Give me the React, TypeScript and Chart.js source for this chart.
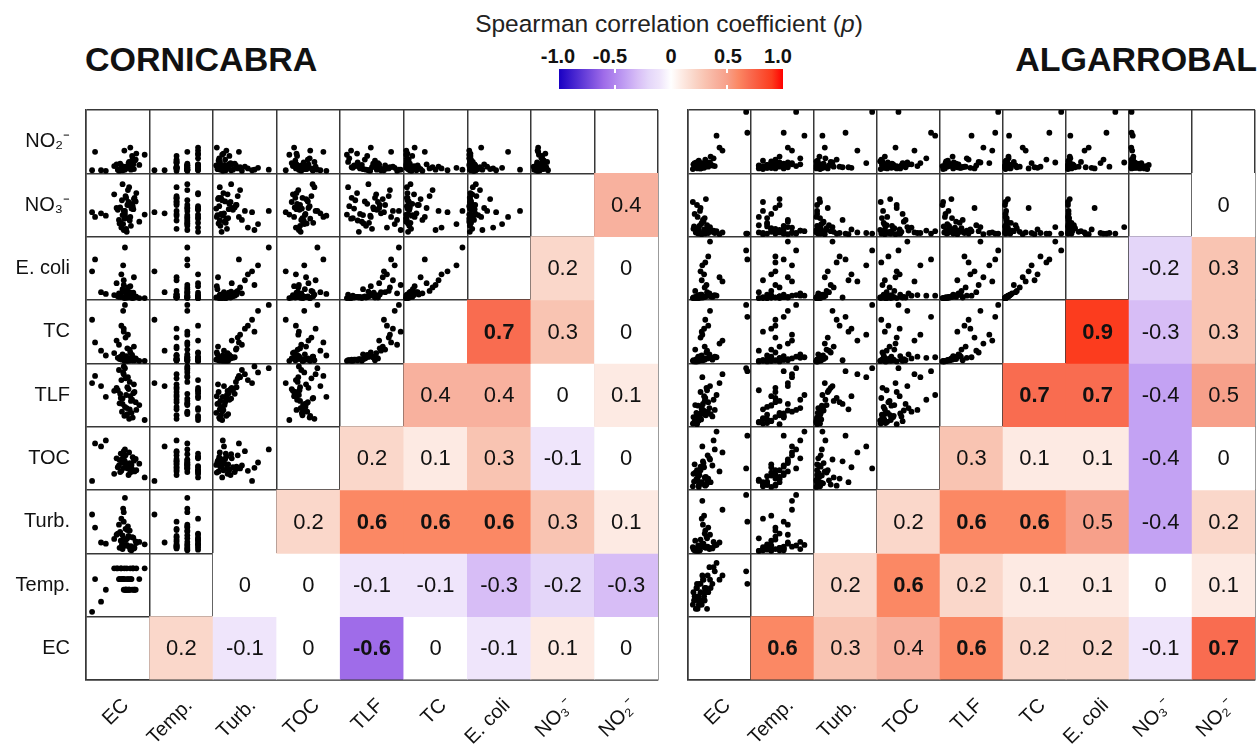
import React, { useEffect, useRef } from "react";
import { Chart, registerables } from "chart.js";

Chart.register(...registerables);

const FONT = '"Liberation Sans", Arial, Helvetica, sans-serif';

// Variables in column order (left -> right); rows are shown in reverse (top -> bottom)
const variableLabels = ["EC", "Temp.", "Turb.", "TOC", "TLF", "TC", "E. coli", "NO₃⁻", "NO₂⁻"];
const rowLabels = [...variableLabels].reverse();

// Spearman coefficients: row r lists values for columns c = r+1 .. 8
const cornicabraCorr: number[][] = [
  [0.2, -0.1, 0, -0.6, 0, -0.1, 0.1, 0],
  [0, 0, -0.1, -0.1, -0.3, -0.2, -0.3],
  [0.2, 0.6, 0.6, 0.6, 0.3, 0.1],
  [0.2, 0.1, 0.3, -0.1, 0],
  [0.4, 0.4, 0, 0.1],
  [0.7, 0.3, 0],
  [0.2, 0],
  [0.4],
];
const algarrobalCorr: number[][] = [
  [0.6, 0.3, 0.4, 0.6, 0.2, 0.2, -0.1, 0.7],
  [0.2, 0.6, 0.2, 0.1, 0.1, 0, 0.1],
  [0.2, 0.6, 0.6, 0.5, -0.4, 0.2],
  [0.3, 0.1, 0.1, -0.4, 0],
  [0.7, 0.7, -0.4, 0.5],
  [0.9, -0.3, 0.3],
  [-0.2, 0.3],
  [0],
];

// Colour scale (value -> rgb)
const colorStopValues = [-1, -0.6, -0.4, -0.3, -0.2, -0.1, 0, 0.1, 0.2, 0.3, 0.4, 0.5, 0.6, 0.7, 0.9, 1];
const colorStopRGB = [
  [25, 0, 195], [159, 108, 233], [195, 162, 243], [215, 189, 246], [228, 214, 249], [239, 229, 251],
  [255, 255, 255], [253, 234, 227], [250, 215, 202], [249, 196, 178], [248, 177, 158], [247, 160, 138],
  [251, 136, 100], [249, 108, 80], [252, 60, 30], [255, 0, 0],
];
const colorbarTicks = ["-1.0", "-0.5", "0", "0.5", "1.0"];
const colorbarTickCenters = [558, 610, 671, 728, 778];

// Normalised sample values (position within a cell, 0..1) — Cornicabra
const cornEC = [0.62,0.70,0.55,0.78,0.66,0.48,0.72,0.60,0.81,0.58,0.68,0.52,0.75,0.64,0.07,0.57,0.71,0.63,0.86,0.50,0.69,0.59,0.74,0.22,0.65,0.54,0.77,0.61,0.67,0.30,0.73,0.56,0.80,0.62,0.44,0.70,0.58,0.95,0.66,0.53,0.76,0.12,0.64,0.60];
const cornTemp = [0.42,0.60,0.78,0.42,0.60,0.78,0.60,0.42,0.78,0.60,0.42,0.60,0.78,0.42,0.05,0.60,0.78,0.42,0.60,0.78,0.42,0.60,0.42,0.22,0.78,0.60,0.42,0.78,0.60,0.42,0.60,0.78,0.42,0.60,0.78,0.42,0.60,0.78,0.42,0.60,0.78,0.60,0.42,0.60];
const cornTurb = [0.10,0.35,0.18,0.06,0.22,0.28,0.09,0.50,0.14,0.04,0.26,0.45,0.07,0.20,0.62,0.12,0.03,0.38,0.16,0.30,0.08,0.72,0.24,0.15,0.11,0.33,0.05,0.19,0.42,0.13,0.02,0.55,0.17,0.90,0.21,0.08,0.27,0.12,0.36,0.06,0.23,0.40,0.10,0.66];
const cornTOC = [0.45,0.32,0.58,0.28,0.40,0.50,0.36,0.62,0.30,0.44,0.22,0.38,0.52,0.34,0.12,0.48,0.26,0.55,0.41,0.35,0.60,0.43,0.31,0.70,0.37,0.27,0.46,0.53,0.33,0.80,0.39,0.29,0.49,0.65,0.24,0.42,0.57,0.18,0.36,0.47,0.30,0.75,0.40,0.34];
const cornTLF = [0.30,0.72,0.45,0.55,0.18,0.62,0.40,0.85,0.25,0.35,0.60,0.92,0.12,0.50,0.70,0.22,0.48,0.78,0.33,0.58,0.10,0.88,0.42,0.65,0.28,0.52,0.68,0.15,0.80,0.47,0.20,0.75,0.38,0.95,0.57,0.26,0.44,0.08,0.63,0.36,0.53,0.82,0.16,0.98];
const cornTC = [0.04,0.20,0.08,0.02,0.01,0.35,0.06,0.55,0.03,0.12,0.05,0.28,0.02,0.09,0.70,0.03,0.15,0.40,0.01,0.06,0.02,0.85,0.11,0.18,0.04,0.07,0.25,0.01,0.45,0.10,0.03,0.60,0.05,0.95,0.14,0.02,0.08,0.01,0.22,0.04,0.06,0.32,0.03,0.50];
const cornEcoli = [0.02,0.10,0.03,0.01,0.04,0.25,0.01,0.30,0.02,0.15,0.01,0.08,0.00,0.05,0.45,0.02,0.20,0.12,0.00,0.03,0.06,0.55,0.02,0.10,0.01,0.04,0.35,0.00,0.18,0.07,0.01,0.40,0.03,0.85,0.05,0.02,0.11,0.00,0.06,0.02,0.09,0.65,0.01,0.22];
const cornNO3 = [0.35,0.50,0.20,0.62,0.28,0.45,0.15,0.40,0.70,0.33,0.55,0.25,0.48,0.10,0.38,0.58,0.30,0.65,0.22,0.42,0.80,0.18,0.52,0.36,0.05,0.46,0.60,0.27,0.75,0.32,0.44,0.12,0.56,0.40,0.68,0.24,0.85,0.34,0.50,0.19,0.43,0.30,0.62,0.08];
const cornNO2 = [0.05,0.10,0.02,0.18,0.06,0.12,0.03,0.08,0.30,0.04,0.14,0.01,0.22,0.07,0.02,0.09,0.40,0.05,0.11,0.03,0.16,0.06,0.26,0.02,0.08,0.13,0.04,0.35,0.07,0.01,0.10,0.05,0.20,0.03,0.09,0.15,0.02,0.28,0.06,0.04,0.12,0.33,0.07,0.03];
const cornColumnScale = [1, 1, 1, 1, 1, 1, 1, 0.3, 1];

// Algarrobal
const algEC = [0.12,0.20,0.08,0.25,0.15,0.30,0.18,0.10,0.35,0.22,0.14,0.28,0.42,0.16,0.05,0.24,0.50,0.11,0.19,0.33,0.26,0.13,0.38,0.09,0.21,0.17,0.45,0.27,0.95,0.07,0.23,0.31,0.15,0.55,0.18,0.29,0.06,0.40,0.20,0.12,0.34,0.97,0.25,0.14];
const algTemp = [0.52,0.24,0.31,0.45,0.17,0.66,0.38,0.10,0.45,0.59,0.24,0.38,0.73,0.52,0.17,0.31,0.59,0.45,0.24,0.80,0.38,0.10,0.52,0.31,0.66,0.17,0.87,0.45,0.73,0.24,0.59,0.38,0.31,0.66,0.52,0.10,0.38,0.80,0.17,0.45,0.59,0.52,0.24,0.31];
const algTurb = [0.05,0.12,0.02,0.30,0.03,0.08,0.20,0.01,0.06,0.45,0.04,0.25,0.10,0.02,0.07,0.60,0.15,0.03,0.09,0.04,0.35,0.01,0.05,0.18,0.85,0.02,0.11,0.06,0.95,0.03,0.13,0.40,0.01,0.70,0.08,0.22,0.04,0.16,0.55,0.02,0.28,0.50,0.07,0.10];
const algTOC = [0.25,0.08,0.40,0.18,0.05,0.55,0.30,0.12,0.10,0.45,0.20,0.06,0.65,0.22,0.03,0.35,0.28,0.15,0.09,0.50,0.04,0.14,0.38,0.26,0.70,0.07,0.95,0.19,0.33,0.11,0.42,0.16,0.02,0.60,0.36,0.13,0.24,0.80,0.10,0.30,0.48,0.88,0.05,0.21];
const algTLF = [0.15,0.30,0.06,0.40,0.10,0.22,0.55,0.04,0.18,0.35,0.08,0.62,0.25,0.12,0.02,0.48,0.70,0.20,0.09,0.28,0.45,0.05,0.14,0.33,0.80,0.11,0.50,0.16,0.95,0.03,0.24,0.38,0.07,0.85,0.19,0.58,0.13,0.42,0.26,0.01,0.65,0.90,0.17,0.32];
const algTC = [0.03,0.10,0.01,0.25,0.02,0.05,0.40,0.00,0.06,0.02,0.01,0.15,0.08,0.03,0.01,0.55,0.30,0.04,0.02,0.12,0.70,0.01,0.03,0.20,0.45,0.02,0.07,0.05,0.95,0.00,0.04,0.60,0.01,0.35,0.09,0.18,0.02,0.06,0.50,0.00,0.85,0.75,0.03,0.08];
const algEcoli = [0.02,0.06,0.01,0.18,0.01,0.04,0.45,0.00,0.03,0.01,0.00,0.22,0.05,0.02,0.00,0.40,0.35,0.03,0.01,0.08,0.60,0.00,0.02,0.12,0.55,0.01,0.04,0.03,0.80,0.00,0.02,0.70,0.01,0.28,0.06,0.10,0.01,0.04,0.30,0.00,0.95,0.65,0.02,0.05];
const algNO3 = [0.10,0.20,0.35,0.05,0.03,0.12,0.45,0.04,0.08,0.25,0.02,0.06,0.03,0.15,0.55,0.09,0.01,0.04,0.18,0.07,0.02,0.30,0.05,0.11,0.03,0.40,0.06,0.60,0.02,0.14,0.22,0.03,0.08,0.04,0.02,0.16,0.10,0.07,0.01,0.50,0.13,0.02,0.28,0.05];
const algNO2 = [0.10,0.06,0.14,0.08,0.18,0.12,0.05,0.09,0.25,0.07,0.11,0.16,0.09,0.13,0.04,0.06,0.40,0.15,0.08,0.12,0.20,0.05,0.10,0.07,0.14,0.09,0.60,0.11,1.00,0.06,0.13,0.08,0.17,0.35,0.05,0.10,0.12,0.22,0.07,0.09,0.15,0.65,0.11,0.06];
const algColumnScale = [1, 1, 1, 1, 1, 1, 1, 0.5, 1];

const cornSamples = [cornEC, cornTemp, cornTurb, cornTOC, cornTLF, cornTC, cornEcoli, cornNO3, cornNO2];
const algSamples = [algEC, algTemp, algTurb, algTOC, algTLF, algTC, algEcoli, algNO3, algNO2];

const GRID_COLOR = "#383838";
const CELL_PAD = 0.03;

function colorFor(v: number): string {
  for (let i = 0; i < colorStopValues.length - 1; i++) {
    const a = colorStopValues[i];
    const b = colorStopValues[i + 1];
    if (v >= a - 1e-9 && v <= b + 1e-9) {
      const t = (v - a) / (b - a);
      const ca = colorStopRGB[i];
      const cb = colorStopRGB[i + 1];
      const c = ca.map((x, k) => Math.round(x + (cb[k] - x) * t));
      return `rgb(${c[0]},${c[1]},${c[2]})`;
    }
  }
  return "#fff";
}

function gradientCss(): string {
  const parts = colorStopValues.map((v, i) => {
    const c = colorStopRGB[i];
    return `rgb(${c[0]},${c[1]},${c[2]}) ${((v + 1) / 2) * 100}%`;
  });
  return `linear-gradient(to right, ${parts.join(", ")})`;
}

function fmt(v: number): string {
  return v === 0 ? "0" : v.toFixed(1);
}

type PanelProps = {
  left: number;
  width: number;
  corr: number[][];
  samples: number[][];
  colScale: number[];
  showRowLabels: boolean;
  padLeft: number;
  padRight: number;
};

function Panel({ left, width, corr, samples, colScale, showRowLabels, padLeft, padRight }: PanelProps) {
  const ref = useRef<HTMLCanvasElement>(null);
  useEffect(() => {
    const cells: { x: number; y: [number, number] }[] = [];
    const cellColors: string[] = [];
    const cellTexts: { c: number; r: number; v: number }[] = [];
    corr.forEach((row, r) => {
      row.forEach((v, idx) => {
        const c = r + 1 + idx;
        cells.push({ x: c + 0.5, y: [r, r + 1] });
        cellColors.push(colorFor(v));
        cellTexts.push({ c, r, v });
      });
    });
    const points: { x: number; y: number }[] = [];
    const n = samples[0].length;
    for (let r = 1; r < 9; r++) {
      for (let c = 0; c < r; c++) {
        for (let k = 0; k < n; k++) {
          points.push({
            x: c + CELL_PAD + (1 - 2 * CELL_PAD) * samples[c][k] * colScale[c],
            y: r + CELL_PAD + (1 - 2 * CELL_PAD) * samples[r][k],
          });
        }
      }
    }
    const textPlugin = {
      id: "cellText",
      afterDatasetsDraw(chart: any) {
        const ctx = chart.ctx;
        const xs = chart.scales.x;
        const ys = chart.scales.y;
        ctx.save();
        ctx.fillStyle = "#111";
        ctx.textAlign = "center";
        ctx.textBaseline = "middle";
        cellTexts.forEach(({ c, r, v }) => {
          ctx.font = `${Math.abs(v) >= 0.6 ? "bold " : ""}22px ${FONT}`;
          ctx.fillText(fmt(v), xs.getPixelForValue(c + 0.5), ys.getPixelForValue(r + 0.5) + 1);
        });
        ctx.restore();
      },
    };
    const zeroPad = (s: any) => {
      s.paddingTop = 0;
      s.paddingBottom = 0;
      s.paddingLeft = 0;
      s.paddingRight = 0;
    };
    const scales: any = {
      x: {
        type: "linear", min: 0, max: 9, position: "bottom", offset: false, z: 1,
        ticks: { display: false, stepSize: 1 },
        grid: { color: GRID_COLOR, lineWidth: 1.5, drawTicks: false, offset: false },
        border: { display: true, color: GRID_COLOR, width: 1.5 },
        afterFit: (s: any) => { s.height = 0; zeroPad(s); },
      },
      y: {
        type: "linear", min: 0, max: 9, position: "left", offset: false, z: 1,
        ticks: { display: false, stepSize: 1 },
        grid: { color: GRID_COLOR, lineWidth: 1.5, drawTicks: false, offset: false },
        border: { display: true, color: GRID_COLOR, width: 1.5 },
        afterFit: (s: any) => { s.width = 0; zeroPad(s); },
      },
      xCat: {
        type: "category", labels: variableLabels, position: "bottom", offset: true,
        grid: { display: false }, border: { display: false },
        ticks: { autoSkip: false, minRotation: 45, maxRotation: 45, color: "#111", padding: 6, labelOffset: 8, font: { family: FONT, size: 20 } },
        afterFit: (s: any) => { s.height = 64; zeroPad(s); },
      },
    };
    if (showRowLabels) {
      scales.yCat = {
        type: "category", labels: rowLabels, position: "left", offset: true,
        grid: { display: false }, border: { display: false },
        ticks: { autoSkip: false, color: "#111", padding: 8, font: { family: FONT, size: 20 } },
        afterFit: (s: any) => { s.width = padLeft; zeroPad(s); },
      };
    }
    const chart = new Chart(ref.current as HTMLCanvasElement, {
      type: "scatter",
      data: {
        datasets: [
          {
            type: "scatter",
            data: points,
            xAxisID: "x",
            yAxisID: "y",
            pointRadius: 2.9,
            pointHoverRadius: 2.9,
            pointBorderWidth: 0,
            backgroundColor: "#000",
            borderColor: "#000",
          } as any,
          {
            type: "bar",
            data: cells as any,
            xAxisID: "x",
            yAxisID: "y",
            backgroundColor: cellColors,
            borderWidth: 0,
            barPercentage: 1,
            categoryPercentage: 1,
            grouped: false,
          } as any,
        ],
      },
      options: {
        responsive: false,
        animation: false,
        devicePixelRatio: 1,
        events: [],
        layout: { padding: { left: showRowLabels ? 0 : padLeft, right: padRight, top: 10, bottom: 0 } },
        plugins: { legend: { display: false }, tooltip: { enabled: false } },
        scales,
      } as any,
      plugins: [textPlugin],
    });
    return () => chart.destroy();
  }, []);
  return (
    <canvas
      ref={ref}
      width={width}
      height={644}
      style={{ position: "absolute", left, top: 100, width, height: 644 }}
    />
  );
}

export default function App() {
  const textBase: React.CSSProperties = { position: "absolute", fontFamily: FONT, lineHeight: 1, whiteSpace: "nowrap", color: "#111" };
  return (
    <div style={{ position: "absolute", left: 0, top: 0, width: 1258, height: 744, background: "#fff", overflow: "hidden" }}>
      <div style={{ ...textBase, left: 85, top: 42, fontSize: 34, fontWeight: "bold" }}>CORNICABRA</div>
      <div style={{ ...textBase, right: 1, top: 42, fontSize: 34, fontWeight: "bold" }}>ALGARROBAL</div>
      <div style={{ ...textBase, left: 469, width: 400, textAlign: "center", top: 12, fontSize: 24.5, color: "#222" }}>
        Spearman correlation coefficient (<span style={{ fontStyle: "italic" }}>p</span>)
      </div>
      {colorbarTicks.map((t, i) => (
        <div key={t} style={{ ...textBase, left: colorbarTickCenters[i] - 30, width: 60, textAlign: "center", top: 46, fontSize: 20, fontWeight: "bold" }}>
          {t}
        </div>
      ))}
      <div style={{ position: "absolute", left: 559, top: 69, width: 224, height: 20, background: gradientCss() }} />
      {[615, 727].map((x) => (
        <React.Fragment key={x}>
          <div style={{ position: "absolute", left: x - 1, top: 69, width: 2, height: 4, background: "#fff" }} />
          <div style={{ position: "absolute", left: x - 1, top: 85, width: 2, height: 4, background: "#fff" }} />
        </React.Fragment>
      ))}
      <Panel left={0} width={672} corr={cornicabraCorr} samples={cornSamples} colScale={cornColumnScale} showRowLabels={true} padLeft={86} padRight={14} />
      <Panel left={672} width={586} corr={algarrobalCorr} samples={algSamples} colScale={algColumnScale} showRowLabels={false} padLeft={16} padRight={1} />
    </div>
  );
}
